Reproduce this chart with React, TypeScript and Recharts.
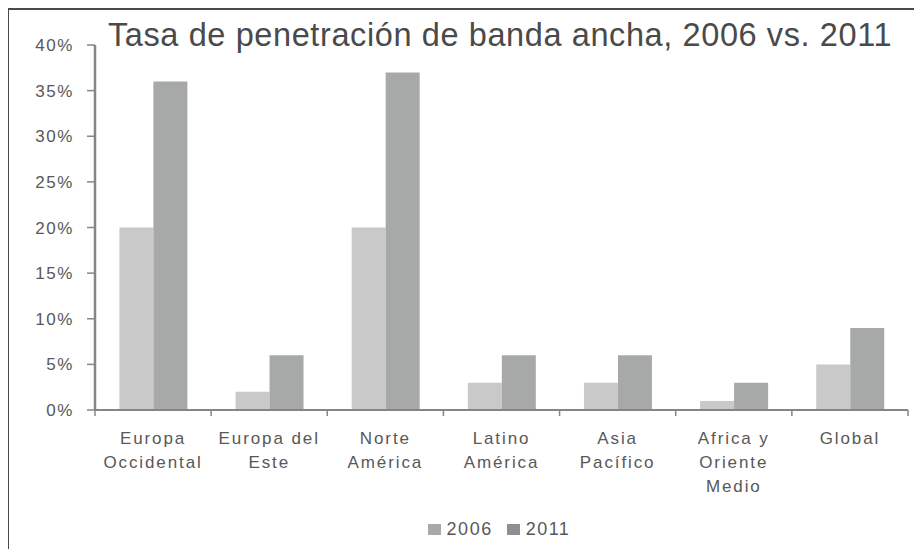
import React from 'react';
import { BarChart, Bar, XAxis, YAxis, Legend } from 'recharts';

const regions = [
  'Europa\nOccidental',
  'Europa del\nEste',
  'Norte\nAmérica',
  'Latino\nAmérica',
  'Asia\nPacífico',
  'Africa y\nOriente\nMedio',
  'Global',
];
const values2006 = [20, 2, 20, 3, 3, 1, 5];
const values2011 = [36, 6, 37, 6, 6, 3, 9];
const yTicks = [0, 5, 10, 15, 20, 25, 30, 35, 40];

const COLORS = { s2006: '#c9c9c9', s2011: '#a7a8a8' };
const TEXT = '#585858';
const AXIS = '#858585';
const FONT = '"Liberation Sans", Arial, sans-serif';

const data = regions.map((name, i) => ({
  name,
  v2006: values2006[i],
  v2011: values2011[i],
}));

// category label + boundary tick marks (ticks sit between categories, not under them)
const CategoryTick = (props: any) => {
  const { x, y, payload, index, visibleTicksCount } = props;
  const lines = String(payload.value).split('\n');
  const half = payload.offset || 0;
  const isLast = index === (visibleTicksCount || regions.length) - 1;
  return (
    <g>
      <line x1={x - half} x2={x - half} y1={y - 8} y2={y - 2} stroke={AXIS} strokeWidth={1.5} />
      {isLast && (
        <line x1={x + half} x2={x + half} y1={y - 8} y2={y - 2} stroke={AXIS} strokeWidth={1.5} />
      )}
      <text
        x={x}
        y={y + 26}
        textAnchor="middle"
        fill={TEXT}
        fontSize={17}
        fontFamily={FONT}
        letterSpacing={1.9}
      >
        {lines.map((l, i) => (
          <tspan key={i} x={x} dy={i === 0 ? 0 : 24}>
            {l}
          </tspan>
        ))}
      </text>
    </g>
  );
};

const PercentTick = (props: any) => {
  const { x, y, payload } = props;
  return (
    <text
      x={x}
      y={y + 6}
      textAnchor="end"
      fill={TEXT}
      fontSize={17}
      fontFamily={FONT}
      letterSpacing={1.6}
    >
      {`${payload.value}%`}
    </text>
  );
};

const LegendContent = () => (
  <div
    style={{
      height: 39,
      display: 'flex',
      justifyContent: 'center',
      alignItems: 'center',
      fontFamily: FONT,
      fontSize: 18,
      letterSpacing: 1.5,
      color: TEXT,
      paddingLeft: 104,
    }}
  >
    {[
      { label: '2006', color: '#a9a9a9' },
      { label: '2011', color: '#8f8f8f' },
    ].map((item) => (
      <span key={item.label} style={{ display: 'flex', alignItems: 'center', marginRight: 14 }}>
        <span
          style={{
            width: 13,
            height: 11,
            background: item.color,
            display: 'inline-block',
            marginRight: 6,
          }}
        />
        {item.label}
      </span>
    ))}
  </div>
);

export default function App() {
  return (
    <div
      style={{
        position: 'relative',
        width: 922,
        height: 549,
        marginLeft: -8,
        marginTop: -8,
        background: '#fff',
      }}
    >
      <div
        style={{
          position: 'absolute',
          left: 0,
          top: 0,
          fontFamily: FONT,
          fontSize: 32.5,
          letterSpacing: 0.6,
          color: '#4a4a4a',
          whiteSpace: 'nowrap',
          lineHeight: '38px',
          paddingLeft: 108,
          paddingTop: 16,
        }}
      >
        Tasa de penetración de banda ancha, 2006 vs. 2011
      </div>
      <div style={{ position: 'absolute', left: 0, top: 0 }}>
        <BarChart
          width={922}
          height={549}
          data={data}
          margin={{ top: 45, right: 14, left: 0, bottom: 0 }}
          barCategoryGap="21%"
          barGap={0}
        >
          <XAxis
            dataKey="name"
            height={100}
            tickLine={false}
            axisLine={{ stroke: AXIS, strokeWidth: 2 }}
            interval={0}
            tick={<CategoryTick />}
          />
          <YAxis
            orientation="left"
            width={95}
            domain={[0, 40]}
            ticks={yTicks}
            tickSize={8}
            tickMargin={13}
            axisLine={{ stroke: AXIS, strokeWidth: 2.5 }}
            tickLine={{ stroke: AXIS, strokeWidth: 1.5 }}
            tick={<PercentTick />}
          />
          <Legend verticalAlign="bottom" content={<LegendContent />} />
          <Bar dataKey="v2006" name="2006" fill={COLORS.s2006} isAnimationActive={false} />
          <Bar dataKey="v2011" name="2011" fill={COLORS.s2011} isAnimationActive={false} />
        </BarChart>
      </div>
      <div
        style={{
          position: 'absolute',
          left: 6,
          top: 8,
          width: 916,
          height: 541,
          boxSizing: 'border-box',
          borderLeft: '3px solid #4a4a4a',
          borderTop: '2px solid #4a4a4a',
          pointerEvents: 'none',
        }}
      />
    </div>
  );
}
